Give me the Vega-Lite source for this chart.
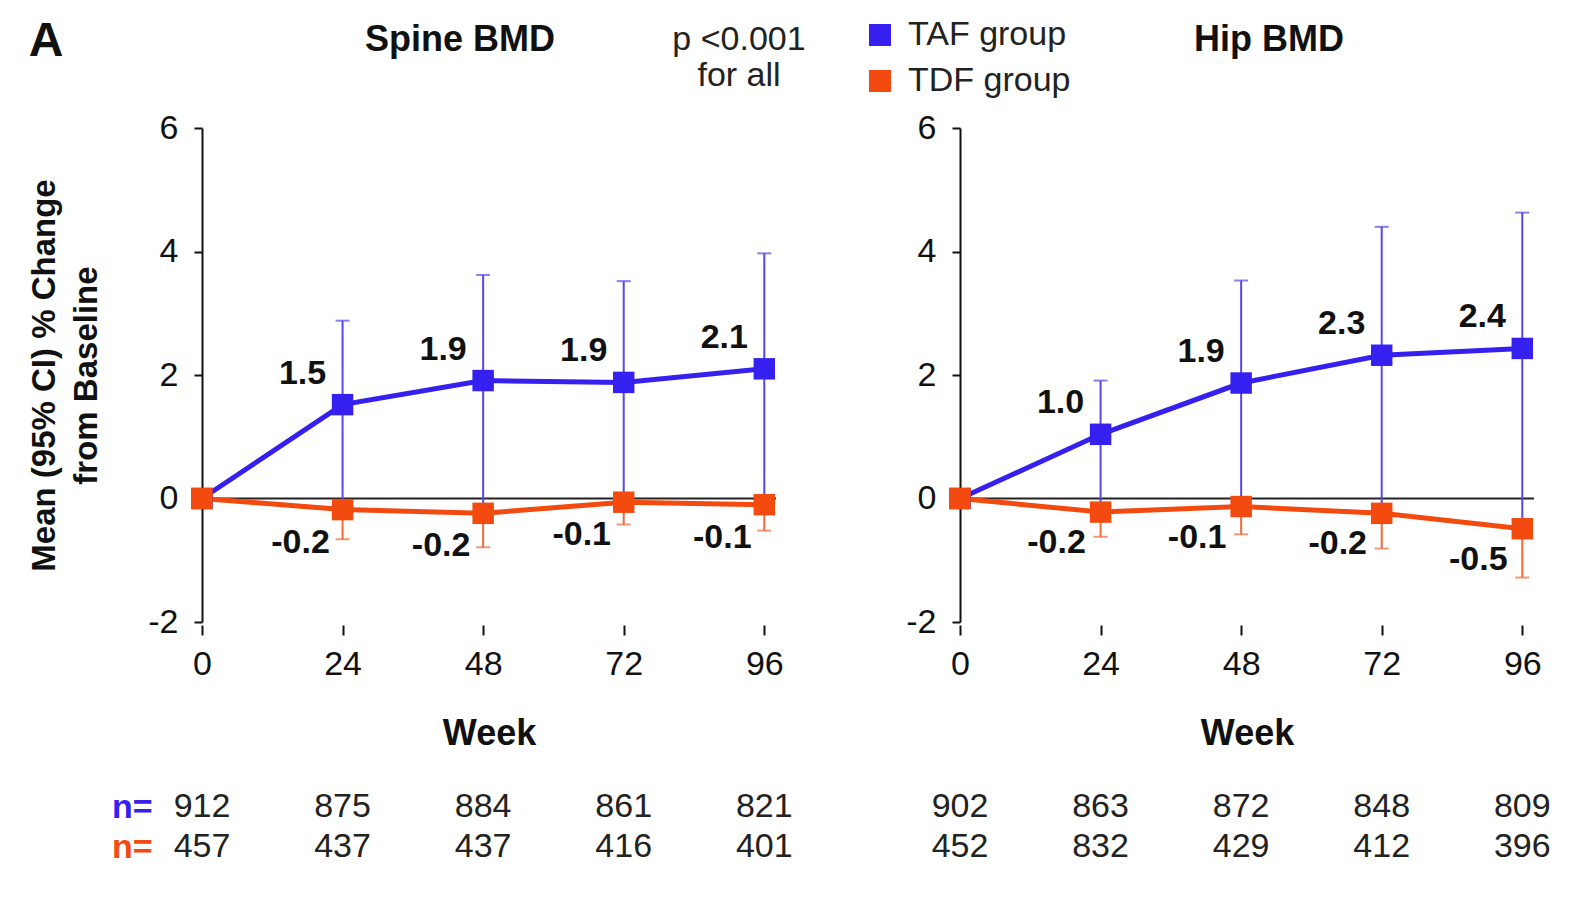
{
  "$schema": "https://vega.github.io/schema/vega-lite/v6.json",
  "background": "white",
  "padding": {"left": 28, "top": 18, "right": 5, "bottom": 5},
  "config": {
    "font": "Liberation Sans",
    "view": {"stroke": null},
    "locale": {"number": {"decimal": ".", "thousands": ",", "grouping": [3], "currency": ["$", ""], "minus": "-"}},
    "legend": {"orient": "none", "legendX": 470, "legendY": -110, "titleOrient": "left", "titleFontSize": 34, "titleFontWeight": "normal", "titleColor": "#222", "titleLineHeight": 36, "titleAlign": "center", "titlePadding": -10, "titleLimit": 400, "symbolType": "square", "symbolSize": 484, "symbolStrokeWidth": 0, "symbolOpacity": 1, "labelFontSize": 34, "labelColor": "#222", "labelOffset": 11, "labelLimit": 400, "rowPadding": 12, "direction": "vertical"}
  },
  "title": {"text": "A", "anchor": "start", "fontSize": 48, "fontWeight": "bold", "offset": -48, "color": "#111"},
  "datasets": {
    "bmd": [
      {"panel": "Spine BMD", "group": "TAF group", "week": 0, "mean": 0, "lo": 0, "hi": 0, "n": 912},
      {"panel": "Spine BMD", "group": "TAF group", "week": 24, "mean": 1.52, "lo": -0.15, "hi": 2.88, "n": 875},
      {"panel": "Spine BMD", "group": "TAF group", "week": 48, "mean": 1.91, "lo": -0.2, "hi": 3.62, "n": 884},
      {"panel": "Spine BMD", "group": "TAF group", "week": 72, "mean": 1.88, "lo": -0.24, "hi": 3.52, "n": 861},
      {"panel": "Spine BMD", "group": "TAF group", "week": 96, "mean": 2.1, "lo": -0.15, "hi": 3.97, "n": 821},
      {"panel": "Hip BMD", "group": "TAF group", "week": 0, "mean": 0, "lo": 0, "hi": 0, "n": 902},
      {"panel": "Hip BMD", "group": "TAF group", "week": 24, "mean": 1.04, "lo": -0.15, "hi": 1.91, "n": 863},
      {"panel": "Hip BMD", "group": "TAF group", "week": 48, "mean": 1.87, "lo": -0.1, "hi": 3.53, "n": 872},
      {"panel": "Hip BMD", "group": "TAF group", "week": 72, "mean": 2.32, "lo": -0.2, "hi": 4.4, "n": 848},
      {"panel": "Hip BMD", "group": "TAF group", "week": 96, "mean": 2.43, "lo": -0.32, "hi": 4.63, "n": 809},
      {"panel": "Spine BMD", "group": "TDF group", "week": 0, "mean": 0, "lo": 0, "hi": 0, "n": 457},
      {"panel": "Spine BMD", "group": "TDF group", "week": 24, "mean": -0.18, "lo": -0.66, "hi": -0.18, "n": 437},
      {"panel": "Spine BMD", "group": "TDF group", "week": 48, "mean": -0.24, "lo": -0.79, "hi": -0.24, "n": 437},
      {"panel": "Spine BMD", "group": "TDF group", "week": 72, "mean": -0.06, "lo": -0.42, "hi": -0.06, "n": 416},
      {"panel": "Spine BMD", "group": "TDF group", "week": 96, "mean": -0.1, "lo": -0.52, "hi": -0.1, "n": 401},
      {"panel": "Hip BMD", "group": "TDF group", "week": 0, "mean": 0, "lo": 0, "hi": 0, "n": 452},
      {"panel": "Hip BMD", "group": "TDF group", "week": 24, "mean": -0.22, "lo": -0.62, "hi": -0.22, "n": 832},
      {"panel": "Hip BMD", "group": "TDF group", "week": 48, "mean": -0.13, "lo": -0.58, "hi": -0.13, "n": 429},
      {"panel": "Hip BMD", "group": "TDF group", "week": 72, "mean": -0.24, "lo": -0.81, "hi": -0.24, "n": 412},
      {"panel": "Hip BMD", "group": "TDF group", "week": 96, "mean": -0.49, "lo": -1.28, "hi": -0.49, "n": 396}
    ],
    "zero": [{"z": 0}]
  },
  "columns": 2,
  "spacing": {"row": 36, "column": 112},
  "concat": [
    {
      "width": 574, "height": 494,
      "title": {"text": "Spine BMD", "fontSize": 36, "fontWeight": "bold", "frame": "group", "anchor": "middle", "dx": -29, "offset": 52, "color": "#111"},
      "layer": [
        {
          "data": {"name": "zero"},
          "mark": {"type": "rule", "color": "#222", "strokeWidth": 2},
          "encoding": {"y": {"field": "z", "type": "quantitative", "scale": {"domain": [-2, 6], "nice": false, "zero": false}}}
        },
        {
          "data": {"name": "bmd"},
          "transform": [{"filter": "datum.panel === 'Spine BMD' && datum.week > 0"}],
          "mark": {"type": "rule", "strokeWidth": 2},
          "encoding": {
            "x": {"field": "week", "type": "quantitative", "scale": {"domain": [0, 98], "nice": false, "zero": false},
              "axis": {"values": [0, 24, 48, 72, 96], "format": "d", "title": "Week", "titleFontSize": 36, "titleFontWeight": "bold", "titlePadding": 35, "titleColor": "#111", "domain": false, "grid": false, "ticks": true, "tickSize": 10, "tickWidth": 2, "tickColor": "#111", "offset": 3, "labelFontSize": 34, "labelColor": "#111", "labelPadding": 12, "labelFlush": false, "labelOverlap": false}},
            "y": {"field": "lo", "type": "quantitative", "scale": {"domain": [-2, 6], "nice": false, "zero": false},
              "axis": {"values": [-2, 0, 2, 4, 6], "format": "d", "title": ["Mean (95% CI) % Change", "from Baseline"], "titleFontSize": 33, "titleFontWeight": "bold", "titleLineHeight": 42, "titlePadding": 44, "titleColor": "#111", "domain": true, "domainColor": "#111", "domainWidth": 2, "ticks": true, "tickSize": 8, "tickWidth": 2, "tickColor": "#111", "labelFontSize": 34, "labelColor": "#111", "labelPadding": 16, "grid": false}},
            "y2": {"field": "hi"},
            "color": {"condition": {"test": "datum.group === 'TAF group'", "value": "#5548ea"}, "value": "#f06a3a"}
          }
        },
        {
          "data": {"name": "bmd"},
          "transform": [{"filter": "datum.panel === 'Spine BMD' && datum.week > 0 && datum.group === 'TAF group'"}],
          "mark": {"type": "tick", "orient": "horizontal", "size": 14, "thickness": 2, "color": "#5548ea"},
          "encoding": {"x": {"field": "week", "type": "quantitative"}, "y": {"field": "hi", "type": "quantitative"}}
        },
        {
          "data": {"name": "bmd"},
          "transform": [{"filter": "datum.panel === 'Spine BMD' && datum.week > 0 && datum.group === 'TDF group'"}],
          "mark": {"type": "tick", "orient": "horizontal", "size": 14, "thickness": 2, "color": "#f06a3a"},
          "encoding": {"x": {"field": "week", "type": "quantitative"}, "y": {"field": "lo", "type": "quantitative"}}
        },
        {
          "data": {"name": "bmd"},
          "transform": [{"filter": "datum.panel === 'Spine BMD'"}],
          "mark": {"type": "line", "strokeWidth": 5},
          "encoding": {
            "x": {"field": "week", "type": "quantitative"},
            "y": {"field": "mean", "type": "quantitative"},
            "color": {"field": "group", "type": "nominal", "scale": {"domain": ["TAF group", "TDF group"], "range": ["#3520f0", "#f24a0f"]}, "legend": {"title": ["p <0.001", "for all"]}}
          }
        },
        {
          "data": {"name": "bmd"},
          "transform": [{"filter": "datum.panel === 'Spine BMD'"}],
          "mark": {"type": "point", "shape": "square", "filled": true, "size": 460, "opacity": 1},
          "encoding": {
            "x": {"field": "week", "type": "quantitative"},
            "y": {"field": "mean", "type": "quantitative"},
            "color": {"field": "group", "type": "nominal", "scale": {"domain": ["TAF group", "TDF group"], "range": ["#3520f0", "#f24a0f"]}, "legend": {"title": ["p <0.001", "for all"]}}
          }
        },
        {
          "data": {"name": "bmd"},
          "transform": [{"filter": "datum.panel === 'Spine BMD' && datum.week > 0 && datum.group === 'TAF group'"}],
          "mark": {"type": "text", "fontSize": 34, "fontWeight": "bold", "color": "#111", "dx": -40, "dy": -31},
          "encoding": {"x": {"field": "week", "type": "quantitative"}, "y": {"field": "mean", "type": "quantitative"}, "text": {"field": "mean", "type": "quantitative", "format": ".1f"}}
        },
        {
          "data": {"name": "bmd"},
          "transform": [{"filter": "datum.panel === 'Spine BMD' && datum.week > 0 && datum.group === 'TDF group'"}],
          "mark": {"type": "text", "fontSize": 34, "fontWeight": "bold", "color": "#111", "dx": -42, "dy": 33},
          "encoding": {"x": {"field": "week", "type": "quantitative"}, "y": {"field": "mean", "type": "quantitative"}, "text": {"field": "mean", "type": "quantitative", "format": ".1f"}}
        }
      ]
    },
    {
      "width": 574, "height": 494,
      "title": {"text": "Hip BMD", "fontSize": 36, "fontWeight": "bold", "frame": "group", "anchor": "middle", "dx": 22, "offset": 52, "color": "#111"},
      "layer": [
        {
          "data": {"name": "zero"},
          "mark": {"type": "rule", "color": "#222", "strokeWidth": 2},
          "encoding": {"y": {"field": "z", "type": "quantitative", "scale": {"domain": [-2, 6], "nice": false, "zero": false}}}
        },
        {
          "data": {"name": "bmd"},
          "transform": [{"filter": "datum.panel === 'Hip BMD' && datum.week > 0"}],
          "mark": {"type": "rule", "strokeWidth": 2},
          "encoding": {
            "x": {"field": "week", "type": "quantitative", "scale": {"domain": [0, 98], "nice": false, "zero": false},
              "axis": {"values": [0, 24, 48, 72, 96], "format": "d", "title": "Week", "titleFontSize": 36, "titleFontWeight": "bold", "titlePadding": 35, "titleColor": "#111", "domain": false, "grid": false, "ticks": true, "tickSize": 10, "tickWidth": 2, "tickColor": "#111", "offset": 3, "labelFontSize": 34, "labelColor": "#111", "labelPadding": 12, "labelFlush": false, "labelOverlap": false}},
            "y": {"field": "lo", "type": "quantitative", "scale": {"domain": [-2, 6], "nice": false, "zero": false},
              "axis": {"values": [-2, 0, 2, 4, 6], "format": "d", "title": null, "domain": true, "domainColor": "#111", "domainWidth": 2, "ticks": true, "tickSize": 8, "tickWidth": 2, "tickColor": "#111", "labelFontSize": 34, "labelColor": "#111", "labelPadding": 16, "grid": false}},
            "y2": {"field": "hi"},
            "color": {"condition": {"test": "datum.group === 'TAF group'", "value": "#5548ea"}, "value": "#f06a3a"}
          }
        },
        {
          "data": {"name": "bmd"},
          "transform": [{"filter": "datum.panel === 'Hip BMD' && datum.week > 0 && datum.group === 'TAF group'"}],
          "mark": {"type": "tick", "orient": "horizontal", "size": 14, "thickness": 2, "color": "#5548ea"},
          "encoding": {"x": {"field": "week", "type": "quantitative"}, "y": {"field": "hi", "type": "quantitative"}}
        },
        {
          "data": {"name": "bmd"},
          "transform": [{"filter": "datum.panel === 'Hip BMD' && datum.week > 0 && datum.group === 'TDF group'"}],
          "mark": {"type": "tick", "orient": "horizontal", "size": 14, "thickness": 2, "color": "#f06a3a"},
          "encoding": {"x": {"field": "week", "type": "quantitative"}, "y": {"field": "lo", "type": "quantitative"}}
        },
        {
          "data": {"name": "bmd"},
          "transform": [{"filter": "datum.panel === 'Hip BMD'"}],
          "mark": {"type": "line", "strokeWidth": 5},
          "encoding": {
            "x": {"field": "week", "type": "quantitative"},
            "y": {"field": "mean", "type": "quantitative"},
            "color": {"field": "group", "type": "nominal", "scale": {"domain": ["TAF group", "TDF group"], "range": ["#3520f0", "#f24a0f"]}, "legend": {"title": ["p <0.001", "for all"]}}
          }
        },
        {
          "data": {"name": "bmd"},
          "transform": [{"filter": "datum.panel === 'Hip BMD'"}],
          "mark": {"type": "point", "shape": "square", "filled": true, "size": 460, "opacity": 1},
          "encoding": {
            "x": {"field": "week", "type": "quantitative"},
            "y": {"field": "mean", "type": "quantitative"},
            "color": {"field": "group", "type": "nominal", "scale": {"domain": ["TAF group", "TDF group"], "range": ["#3520f0", "#f24a0f"]}, "legend": {"title": ["p <0.001", "for all"]}}
          }
        },
        {
          "data": {"name": "bmd"},
          "transform": [{"filter": "datum.panel === 'Hip BMD' && datum.week > 0 && datum.group === 'TAF group'"}],
          "mark": {"type": "text", "fontSize": 34, "fontWeight": "bold", "color": "#111", "dx": -40, "dy": -31},
          "encoding": {"x": {"field": "week", "type": "quantitative"}, "y": {"field": "mean", "type": "quantitative"}, "text": {"field": "mean", "type": "quantitative", "format": ".1f"}}
        },
        {
          "data": {"name": "bmd"},
          "transform": [{"filter": "datum.panel === 'Hip BMD' && datum.week > 0 && datum.group === 'TDF group'"}],
          "mark": {"type": "text", "fontSize": 34, "fontWeight": "bold", "color": "#111", "dx": -44, "dy": 31},
          "encoding": {"x": {"field": "week", "type": "quantitative"}, "y": {"field": "mean", "type": "quantitative"}, "text": {"field": "mean", "type": "quantitative", "format": ".1f"}}
        }
      ]
    },
    {
      "width": 574, "height": 80,
      "data": {"name": "bmd"},
      "transform": [{"filter": "datum.panel === 'Spine BMD'"}],
      "mark": {"type": "text", "fontSize": 34, "color": "#222"},
      "encoding": {
        "x": {"field": "week", "type": "quantitative", "scale": {"domain": [0, 98], "nice": false, "zero": false}, "axis": null},
        "y": {"field": "group", "type": "nominal", "scale": {"type": "point", "domain": ["TAF group", "TDF group"], "padding": 0.5},
          "axis": {"title": null, "domain": false, "ticks": false, "grid": false, "labelExpr": "'n='", "labelFontSize": 34, "labelFontWeight": "bold", "labelPadding": 50,
            "labelColor": {"condition": {"test": "datum.value === 'TAF group'", "value": "#3520f0"}, "value": "#f24a0f"}}},
        "text": {"field": "n", "type": "quantitative"}
      }
    },
    {
      "width": 574, "height": 80,
      "data": {"name": "bmd"},
      "transform": [{"filter": "datum.panel === 'Hip BMD'"}],
      "mark": {"type": "text", "fontSize": 34, "color": "#222"},
      "encoding": {
        "x": {"field": "week", "type": "quantitative", "scale": {"domain": [0, 98], "nice": false, "zero": false}, "axis": null},
        "y": {"field": "group", "type": "nominal", "scale": {"type": "point", "domain": ["TAF group", "TDF group"], "padding": 0.5}, "axis": null},
        "text": {"field": "n", "type": "quantitative"}
      }
    }
  ]
}
